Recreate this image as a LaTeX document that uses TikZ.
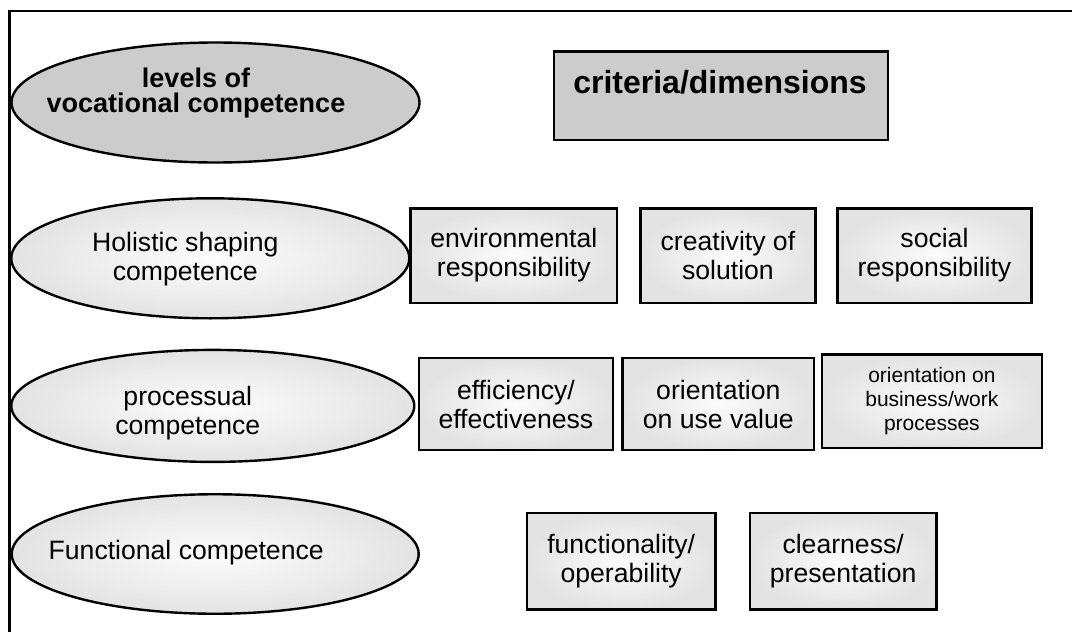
\documentclass[tikz,border=0pt]{standalone}
\usepackage{fontspec}
\setmainfont{Liberation Sans}
\usetikzlibrary{shapes,positioning,calc}

\begin{document}
\begin{tikzpicture}
[x=1pt,y=-1pt,node distance=20pt,
myell/.style={shape=ellipse,draw=black,line width=2.4pt,inner sep=0pt,
shade,inner color=gray!2,outer color=gray!22},
headell/.style={shape=ellipse,draw=black,line width=2.4pt,inner sep=0pt,fill=gray!40},
headbox/.style={shape=rectangle,draw=black,line width=2.8pt,inner sep=0pt,fill=gray!40},
mybox/.style={shape=rectangle,draw=black,line width=2.4pt,inner sep=0pt,align=center,
shade,inner color=gray!3,outer color=gray!22,font=\fontsize{26.6}{29}\selectfont},
lab/.style={align=center,font=\fontsize{26.6}{29}\selectfont},
boldlab/.style={align=center,font=\bfseries\fontsize{27}{25}\selectfont}]
\useasboundingbox (0,0) rectangle (1072,632);
%%%%%%%%%%
%% frame
\coordinate (tr) at (1072,11);
\coordinate (tl) at (9.5,11);
\coordinate (bl) at (9.5,632);
\draw[line width=2.4pt] (tr) -- (tl) -- (bl);
%%%%%%%%%%
%%%%% levels
\node (l0) [headell,minimum width=408,minimum height=120] at (215.5,102.5) {};
\node (t0) [boldlab] at ($(l0)+(-19.5,-9.5)$) {levels of\\vocational competence};
\node (l1) [myell,minimum width=398,minimum height=120] at (210.3,258.3) {};
\node (t1) [lab] at ($(l1)+(-25,1)$) {Holistic shaping\\competence};
\node (l2) [myell,minimum width=403,minimum height=112] at (212.8,405.9) {};
\node (t2) [lab] at ($(l2)+(-25,7)$) {processual\\competence};
\node (l3) [myell,minimum width=407,minimum height=119.5] at (215.2,554) {};
\node (t3) [lab] at ($(l3)+(-29,-1)$) {Functional competence};
%%%%%%%%%%
%%%%% criteria
\node (cd) [headbox,minimum width=334,minimum height=88.5] at (721,95.8) {};
\node (cdt) [font=\bfseries\fontsize{32}{36}\selectfont] at ($(cd)+(-1,-14)$) {criteria/dimensions};
%% holistic row
\node (c11) [mybox,minimum width=206.5,minimum height=94.2] at (513.8,255.6)
{environmental\\responsibility};
\node (c12) [mybox,minimum width=175,minimum height=94.2,right=21pt of c11]
{creativity of\\solution};
\node (c13) [mybox,minimum width=194.2,minimum height=94.2,right=19.5pt of c12]
{social\\responsibility};
%% processual row
\node (c21) [mybox,minimum width=193.8,minimum height=91.5] at (515.9,404)
{efficiency/\\effectiveness};
\node (c22) [mybox,minimum width=191.5,minimum height=91.5,right=7.4pt of c21]
{orientation\\on use value};
\node (c23) [mybox,minimum width=219.8,minimum height=93.2,right=5.5pt of c22,
yshift=2.8pt,font=\fontsize{21}{24}\selectfont]
{orientation on\\business/work\\processes};
%% functional row
\node (c31) [mybox,minimum width=188.2,minimum height=96.5] at (621.2,561.2)
{functionality/\\operability};
\node (c32) [mybox,minimum width=186.5,minimum height=96.5,right=32.2pt of c31]
{clearness/\\presentation};
\end{tikzpicture}
\end{document}
